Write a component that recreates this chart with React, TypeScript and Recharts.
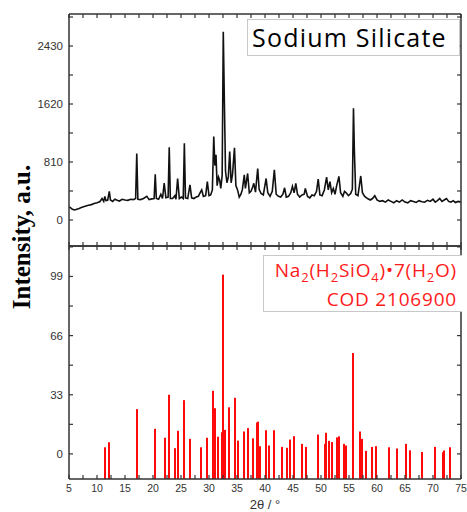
import React from "react";
import {
  LineChart,
  Line,
  ComposedChart,
  Bar,
  XAxis,
  YAxis,
  Label,
} from "recharts";

// measured pattern: 2θ positions and counts
const patternAngles = [
  5.0, 5.3, 5.6, 6.0, 6.4, 6.8, 7.2, 7.6, 8.0, 8.5, 9.0, 9.5, 10.0, 10.5, 10.9,
  11.2, 11.4, 11.6, 11.9, 12.2, 12.4, 12.8, 13.2, 13.6, 14.0, 14.5, 15.0, 15.5,
  16.0, 16.5, 16.9, 17.1, 17.3, 17.8, 18.3, 18.9, 19.3, 19.8, 20.2, 20.4, 20.6,
  21.0, 21.4, 21.7, 22.0, 22.3, 22.7, 22.9, 23.1, 23.5, 23.9, 24.1, 24.4, 24.7,
  25.1, 25.4, 25.6, 25.8, 26.2, 26.6, 26.9, 27.3, 27.7, 28.1, 28.4, 28.7, 29.0,
  29.4, 29.7, 30.0, 30.3, 30.6, 30.85, 31.05, 31.25, 31.45, 31.7, 31.9, 32.1,
  32.35, 32.55, 32.75, 32.95, 33.2, 33.45, 33.7, 33.95, 34.2, 34.55, 34.8, 35.1,
  35.4, 35.7, 35.95, 36.3, 36.5, 36.9, 37.2, 37.5, 37.8, 38.0, 38.3, 38.7, 38.95,
  39.3, 39.7, 40.2, 40.5, 40.9, 41.3, 41.67, 42.0, 42.4, 42.8, 43.2, 43.5, 43.8,
  44.2, 44.6, 44.9, 45.2, 45.5, 45.8, 46.2, 46.6, 47.0, 47.2, 47.6, 48.0, 48.4,
  48.8, 49.2, 49.5, 49.8, 50.2, 50.6, 51.0, 51.3, 51.6, 51.9, 52.2, 52.5, 52.8,
  53.2, 53.5, 53.9, 54.2, 54.5, 54.9, 55.3, 55.6, 55.8, 55.95, 56.2, 56.6, 57.1,
  57.4, 57.8, 58.3, 58.8, 59.2, 59.6, 60.0, 60.5, 61.0, 61.5, 62.0, 62.5, 63.0,
  63.5, 64.0, 64.5, 65.0, 65.5, 66.0, 66.5, 67.0, 67.5, 68.0, 68.5, 69.0, 69.5,
  70.0, 70.4, 70.8, 71.2, 71.6, 72.0, 72.4, 72.8, 73.2, 73.6, 74.0, 74.5, 75.0,
];
const patternCounts = [
  185, 170, 150, 140, 150, 160, 175, 185, 195, 205, 215, 230, 240, 255, 300,
  260, 330, 270, 275, 400, 280, 260, 290, 275, 265, 290, 280, 275,
  290, 285, 300, 930, 290, 285, 300, 330, 285, 295, 300, 640, 300,
  290, 360, 300, 515, 310, 320, 1015, 300, 300, 340, 290, 580, 300,
  320, 300, 1070, 310, 300, 490, 310, 300, 320, 330, 380, 420, 330,
  340, 535, 340, 350, 420, 1165, 760, 910, 480, 600, 560, 440,
  620, 2630, 1630, 680, 520, 600, 955, 520, 640, 1010, 480, 420,
  320, 360, 420, 630, 440, 650, 380, 400, 460, 512, 390, 720, 430,
  370, 350, 580, 380, 330, 400, 700, 360, 330, 320, 360, 450, 320,
  330, 380, 470, 380, 510, 360, 320, 350, 360, 440, 330, 310, 350,
  340, 400, 570, 350, 340, 420, 600, 420, 535, 380, 440, 360, 480,
  610, 380, 330, 400, 380, 340, 370, 430, 1560, 1000, 360, 340, 615,
  380, 330, 300, 280, 300, 340, 280, 260, 270, 250, 280, 260, 240,
  270, 250, 280, 250, 240, 270, 260, 245, 270, 255, 250, 275, 260,
  290, 250, 270, 300, 260, 280, 300, 260, 250, 270, 245, 260, 250,
];

// reference card sticks (COD 2106900)
const stickAngles = [
  11.37, 12.14, 17.14, 20.36, 22.1, 22.86, 23.86, 24.4, 25.5, 26.55, 28.6, 29.6,
  30.77, 31.05, 31.6, 32.4, 32.56, 32.95, 33.66, 34.6, 35.2, 36.25, 36.9, 37.9,
  38.6, 38.8, 39.1, 40.15, 40.7, 41.67, 43.1, 44.0, 44.5, 45.1, 46.7, 47.3, 49.5,
  50.7, 50.95, 51.5, 51.9, 52.8, 53.2, 54.1, 54.5, 55.78, 56.97, 57.4, 58.1,
  59.1, 59.8, 62.1, 63.5, 65.1, 65.9, 68.1, 70.4, 71.8, 72.0, 73.0,
];
const stickIntensities = [
  3.7, 6.5, 25, 14, 9, 33, 3.2, 12.9, 30, 8.4, 3.7, 9,
  35.2, 25.5, 9.6, 12.1, 100, 13.4, 26, 31.3, 7.4, 12.5, 14.4, 8.7,
  17.5, 18, 4.3, 13.2, 4.7, 13.2, 3.9, 3.4, 8.0, 9.9, 5.6, 3.9, 10.8,
  5.6, 11.8, 7.3, 6.6, 9.2, 9.8, 5.6, 4.7, 56.3, 12.5, 8.4, 1.7,
  3.9, 4.3, 3.7, 3.0, 5.6, 2.0, 1.1, 3.9, 0.9, 1.9, 3.7,
];

const xTicks = [
  5, 7.5, 10, 12.5, 15, 17.5, 20, 22.5, 25, 27.5, 30, 32.5, 35, 37.5, 40, 42.5,
  45, 47.5, 50, 52.5, 55, 57.5, 60, 62.5, 65, 67.5, 70, 72.5, 75,
];
const topTicks = [0, 405, 810, 1215, 1620, 2025, 2430, 2835];
const bottomTicks = [0, 16.5, 33, 49.5, 66, 82.5, 99, 115.5];

const topDomain = [-363, 2877];
const bottomDomain = [-14, 116];

const patternData = patternAngles.map((a, i) => ({ x: a, y: patternCounts[i] }));
const stickData = stickAngles.map((a, i) => ({
  x: a,
  y: [bottomDomain[0], stickIntensities[i]],
  v: stickIntensities[i],
}));

const axisColor = "#333";
const axisLine = { stroke: axisColor, strokeWidth: 1.5 };
const labelFont = "Liberation Sans, Arial, sans-serif";
const TL = 4; // inward tick length

// inward ticks, labels drawn outside
const LeftTick = ({ x, y, payload, step }: any) => (
  <g>
    <line x1={x} y1={y} x2={x + TL} y2={y} stroke={axisColor} strokeWidth={1.2} />
    {payload.value % step === 0 && (
      <text x={x - 6} y={y} dy="0.35em" textAnchor="end" fontSize={11.5} fill="#333" fontFamily={labelFont}>
        {payload.value}
      </text>
    )}
  </g>
);
const RightTick = ({ x, y }: any) => (
  <line x1={x} y1={y} x2={x - TL} y2={y} stroke={axisColor} strokeWidth={1.2} />
);
const TopTick = ({ x, y }: any) => (
  <line x1={x} y1={y} x2={x} y2={y + TL} stroke={axisColor} strokeWidth={1.2} />
);
const BottomTick = ({ x, y, payload, labels }: any) => (
  <g>
    <line x1={x} y1={y} x2={x} y2={y - TL} stroke={axisColor} strokeWidth={1.2} />
    {labels && payload.value % 5 === 0 && (
      <text x={x} y={y + 13} textAnchor="middle" fontSize={10.5} fill="#333" fontFamily={labelFont}>
        {payload.value}
      </text>
    )}
  </g>
);

// crisp 2px stick centred on the bar position the library computed
const Stick = ({ x, y, width, height }: any) => {
  const cx = Math.round(x + width / 2);
  return <rect x={cx - 1} y={y} width={2} height={height} fill="#ff0a0a" />;
};

const App = () => {
  return (
    <div
      style={{
        position: "absolute",
        left: 0,
        top: 0,
        width: 467,
        height: 512,
        background: "#fff",
        overflow: "hidden",
      }}
    >
      <div style={{ position: "absolute", left: 0, top: 0 }}>
        <LineChart
          width={467}
          height={247}
          data={patternData}
          margin={{ top: 13, right: 5, bottom: 0, left: 0 }}
        >
          <XAxis
            xAxisId="b"
            dataKey="x"
            type="number"
            domain={[5, 75]}
            ticks={xTicks}
            tick={<BottomTick labels={false} />}
            tickLine={false}
            tickSize={0}
            tickMargin={0}
            height={1}
            axisLine={axisLine}
            allowDataOverflow
            interval={0}
          />
          <XAxis
            xAxisId="t"
            dataKey="x"
            orientation="top"
            type="number"
            domain={[5, 75]}
            ticks={xTicks}
            tick={<TopTick />}
            tickLine={false}
            tickSize={0}
            tickMargin={0}
            height={1}
            axisLine={axisLine}
            allowDataOverflow
            interval={0}
          />
          <YAxis
            yAxisId="l"
            type="number"
            domain={topDomain}
            ticks={topTicks}
            tick={<LeftTick step={810} />}
            tickLine={false}
            tickSize={0}
            tickMargin={0}
            width={69}
            axisLine={axisLine}
            allowDataOverflow
            interval={0}
          />
          <YAxis
            yAxisId="r"
            orientation="right"
            type="number"
            domain={topDomain}
            ticks={topTicks}
            tick={<RightTick />}
            tickLine={false}
            tickSize={0}
            tickMargin={0}
            width={1}
            axisLine={axisLine}
            allowDataOverflow
            interval={0}
          />
          <Line
            xAxisId="t"
            yAxisId="r"
            dataKey="y"
            stroke="none"
            dot={false}
            isAnimationActive={false}
          />
          <Line
            xAxisId="b"
            yAxisId="l"
            dataKey="y"
            type="linear"
            stroke="#111"
            strokeWidth={1.6}
            dot={false}
            isAnimationActive={false}
          />
        </LineChart>
      </div>

      <div style={{ position: "absolute", left: 0, top: 245 }}>
        <ComposedChart
          width={467}
          height={267}
          data={stickData}
          margin={{ top: 0, right: 5, bottom: 0, left: 0 }}
        >
          <XAxis
            xAxisId="b"
            dataKey="x"
            type="number"
            domain={[5, 75]}
            ticks={xTicks}
            tick={<BottomTick labels />}
            tickLine={false}
            tickSize={0}
            tickMargin={0}
            height={33}
            axisLine={axisLine}
            allowDataOverflow
            interval={0}
          >
            <Label
              value="2θ / °"
              position="insideBottom"
              offset={3}
              style={{ fontSize: 13, fill: "#333", fontFamily: labelFont }}
            />
          </XAxis>
          <XAxis
            xAxisId="t"
            dataKey="x"
            orientation="top"
            type="number"
            domain={[5, 75]}
            ticks={xTicks}
            tick={<TopTick />}
            tickLine={false}
            tickSize={0}
            tickMargin={0}
            height={1}
            axisLine={axisLine}
            allowDataOverflow
            interval={0}
          />
          <YAxis
            yAxisId="l"
            type="number"
            domain={bottomDomain}
            ticks={bottomTicks}
            tick={<LeftTick step={33} />}
            tickLine={false}
            tickSize={0}
            tickMargin={0}
            width={69}
            axisLine={axisLine}
            allowDataOverflow
            interval={0}
          />
          <YAxis
            yAxisId="r"
            orientation="right"
            type="number"
            domain={bottomDomain}
            ticks={bottomTicks}
            tick={<RightTick />}
            tickLine={false}
            tickSize={0}
            tickMargin={0}
            width={1}
            axisLine={axisLine}
            allowDataOverflow
            interval={0}
          />
          <Line
            xAxisId="t"
            yAxisId="r"
            dataKey="v"
            stroke="none"
            dot={false}
            isAnimationActive={false}
          />
          <Bar
            xAxisId="b"
            yAxisId="l"
            dataKey="y"
            fill="#ff0a0a"
            barSize={2}
            shape={<Stick />}
            isAnimationActive={false}
          />
        </ComposedChart>
      </div>

      <div
        style={{
          position: "absolute",
          left: 247,
          top: 19,
          width: 207,
          height: 35,
          border: "1px solid #c8c8c8",
          background: "#fff",
          fontFamily: "Open Sans, sans-serif",
          fontSize: 25,
          letterSpacing: 1.2,
          lineHeight: "35px",
          paddingLeft: 4,
          color: "#000",
          whiteSpace: "nowrap",
        }}
      >
        Sodium Silicate
      </div>

      <div
        style={{
          position: "absolute",
          left: 263,
          top: 255,
          width: 193,
          height: 55,
          borderLeft: "1px solid #c8c8c8",
          borderTop: "1px solid #c8c8c8",
          borderBottom: "1px solid #c8c8c8",
          background: "#fff",
          fontFamily: "Open Sans, sans-serif",
          fontSize: 19,
          letterSpacing: 0.8,
          lineHeight: "29px",
          paddingRight: 5,
          textAlign: "right",
          color: "#ff1a1a",
          whiteSpace: "nowrap",
        }}
      >
        <div>
          Na<sub style={{ fontSize: 13, lineHeight: 0 }}>2</sub>(H
          <sub style={{ fontSize: 13, lineHeight: 0 }}>2</sub>SiO
          <sub style={{ fontSize: 13, lineHeight: 0 }}>4</sub>)•7(H
          <sub style={{ fontSize: 13, lineHeight: 0 }}>2</sub>O)
        </div>
        <div>COD 2106900</div>
      </div>

      <div
        style={{
          position: "absolute",
          left: 22,
          top: 237,
          transform: "translate(-50%, -50%) rotate(-90deg)",
          fontFamily: "Liberation Serif, Times New Roman, serif",
          fontWeight: "bold",
          fontSize: 25,
          whiteSpace: "nowrap",
          color: "#000",
        }}
      >
        Intensity, a.u.
      </div>
    </div>
  );
};

export default App;
